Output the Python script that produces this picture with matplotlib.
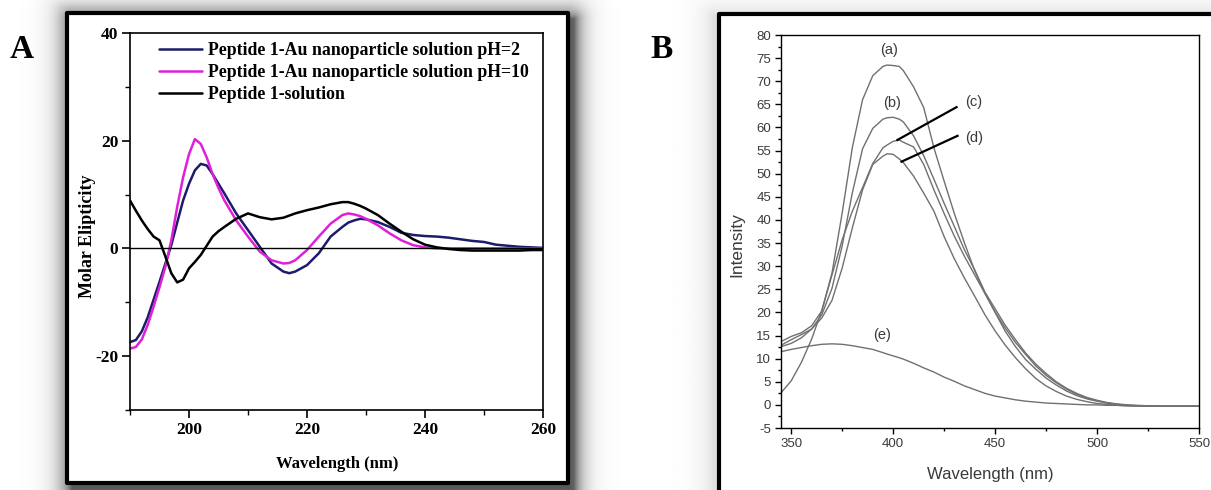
import numpy as np
import matplotlib
matplotlib.use("Agg")
import matplotlib.pyplot as plt
from matplotlib.patches import Rectangle

plt.rcParams["axes.unicode_minus"] = False

# =========================
# DATA
# =========================
# Panel A: CD spectra
cd_wavelength = [190, 191, 192, 193, 194, 195, 196, 197, 198, 199, 200, 201, 202, 203,
                 204, 205, 206, 208, 210, 212, 214, 216, 217, 218, 220, 222, 224, 226,
                 227, 228, 229, 230, 232, 234, 236, 238, 240, 242, 244, 246, 248, 250,
                 252, 254, 256, 258, 260]
cd_ph2 = [-17.4, -17.0, -15.4, -12.8, -9.5, -6.2, -2.8, 0.6, 4.8, 8.9, 12.0, 14.5, 15.7, 15.4,
          13.8, 12.0, 10.2, 6.5, 3.4, 0.3, -2.8, -4.3, -4.6, -4.3, -3.1, -0.9, 2.2, 4.0,
          4.8, 5.2, 5.5, 5.4, 4.9, 4.0, 2.9, 2.5, 2.3, 2.2, 2.0, 1.7, 1.4, 1.2,
          0.7, 0.5, 0.3, 0.2, 0.1]
cd_ph10 = [-18.6, -18.3, -16.9, -14.2, -10.8, -7.2, -3.4, 1.5, 7.7, 13.2, 17.5, 20.3, 19.4, 16.9,
           13.8, 11.2, 8.9, 5.2, 2.2, -0.6, -2.2, -2.8, -2.7, -2.2, -0.3, 2.2, 4.6, 6.2,
           6.5, 6.3, 6.0, 5.5, 4.3, 2.8, 1.5, 0.6, 0.2, 0.0, 0.0, 0.0, 0.0, 0.0,
           0.0, 0.0, 0.0, 0.0, 0.0]
cd_peptide = [8.9, 7.0, 5.2, 3.6, 2.2, 1.5, -1.5, -4.6, -6.3, -5.8, -3.7, -2.5, -1.2, 0.5,
              2.2, 3.2, 4.0, 5.5, 6.5, 5.8, 5.4, 5.7, 6.1, 6.5, 7.1, 7.6, 8.2, 8.6,
              8.6, 8.3, 7.9, 7.4, 6.2, 4.6, 3.1, 1.7, 0.7, 0.2, -0.1, -0.3, -0.4, -0.4,
              -0.4, -0.4, -0.4, -0.3, -0.3]
cd_labels = ["Peptide 1-Au nanoparticle solution pH=2",
             "Peptide 1-Au nanoparticle solution pH=10",
             "Peptide 1-solution"]

# Panel B: fluorescence spectra
fl_wavelength = [345, 350, 355, 360, 365, 370, 375, 380, 385, 390, 395, 397, 400, 403, 405,
                 410, 415, 420, 425, 430, 435, 440, 445, 450, 455, 460, 465, 470, 475, 480,
                 485, 490, 495, 500, 505, 510, 515, 520, 530, 540, 550]
fl_a = [13.7, 14.8, 15.6, 17.1, 20.3, 28.5, 41.5, 55.7, 66.0, 71.2, 73.2, 73.5, 73.4, 73.2, 72.3,
        68.8, 64.3, 55.6, 48.4, 41.4, 35.0, 29.0, 24.2, 20.0, 15.9, 12.6, 9.8, 7.7, 5.8, 4.3,
        3.0, 2.0, 1.3, 0.8, 0.4, 0.1, -0.1, -0.2, -0.3, -0.3, -0.3]
fl_b = [12.9, 14.1, 15.2, 16.4, 19.5, 25.2, 34.4, 45.9, 55.4, 59.8, 61.8, 62.1, 62.2, 61.8, 61.2,
        58.2, 53.9, 48.8, 43.6, 38.6, 33.5, 29.2, 24.4, 20.8, 17.2, 14.1, 11.2, 8.8, 6.8, 5.0,
        3.6, 2.5, 1.6, 1.0, 0.5, 0.2, 0.0, -0.1, -0.3, -0.3, -0.3]
fl_c = [2.6, 5.2, 9.2, 14.2, 20.4, 28.1, 35.7, 41.9, 47.0, 52.2, 55.6, 56.2, 57.0, 57.3, 56.8,
        55.8, 52.0, 46.5, 41.4, 36.5, 32.1, 28.1, 24.1, 20.1, 16.6, 13.5, 10.9, 8.4, 6.4, 4.8,
        3.4, 2.3, 1.5, 0.9, 0.4, 0.1, -0.1, -0.2, -0.3, -0.3, -0.3]
fl_d = [12.6, 13.3, 14.5, 16.4, 18.8, 22.6, 29.6, 38.3, 46.5, 52.0, 53.8, 54.3, 54.2, 53.2, 52.4,
        49.5, 45.8, 41.9, 36.4, 31.6, 27.4, 23.5, 19.5, 16.0, 12.9, 10.2, 7.8, 5.7, 4.1, 2.9,
        1.9, 1.2, 0.7, 0.3, 0.1, -0.1, -0.2, -0.2, -0.3, -0.3, -0.3]
fl_e = [11.5, 12.0, 12.4, 12.8, 13.1, 13.2, 13.1, 12.8, 12.4, 12.0, 11.3, 11.0, 10.6, 10.2, 9.9,
        9.0, 8.0, 7.1, 6.0, 5.1, 4.1, 3.3, 2.5, 1.9, 1.5, 1.1, 0.8, 0.6, 0.4, 0.3,
        0.2, 0.1, 0.0, 0.0, -0.1, -0.1, -0.2, -0.2, -0.3, -0.3, -0.3]
fl_names = ["(a)", "(b)", "(c)", "(d)", "(e)"]

# =========================
# LAYOUT (pixels of a 1211 x 490 canvas)
# =========================
W, H = 1211, 490
SERIF = "Liberation Serif"
SANS = "Liberation Sans"


def fig_rect(x0, y0, x1, y1):
    return [x0 / W, 1 - y1 / H, (x1 - x0) / W, (y1 - y0) / H]


def rect_dist(xx, yy, x0, y0, x1, y1):
    dx = np.maximum(np.maximum(x0 - xx, 0), xx - x1)
    dy = np.maximum(np.maximum(y0 - yy, 0), yy - y1)
    return np.hypot(dx, dy)


fig = plt.figure(figsize=(W / 100, H / 100), dpi=100)

# background with soft drop shadows and the two black frames
bg = fig.add_axes([0, 0, 1, 1], zorder=0)
bg.set_xlim(0, W)
bg.set_ylim(H, 0)
bg.axis("off")
yy, xx = np.mgrid[0:H, 0:W] + 0.5
shade = 0.55 * np.exp(-rect_dist(xx, yy, 72, 20, 574, 492) / 9.0)
shade += 0.10 * np.exp(-rect_dist(xx, yy, 60, 8, 570, 488) / 10.0)
shade += 0.12 * np.exp(-rect_dist(xx, yy, 714, 16, 1260, 520) / 12.0)
bg.imshow(1 - np.clip(shade, 0, 1), cmap="gray", vmin=0, vmax=1,
          extent=[0, W, H, 0], aspect="auto", interpolation="bilinear")
bg.add_patch(Rectangle((67, 13), 501, 470, facecolor="white", edgecolor="black",
                       lw=3.0, joinstyle="round"))
bg.add_patch(Rectangle((719, 14), 600, 600, facecolor="white", edgecolor="black",
                       lw=3.0, joinstyle="round"))
bg.text(22, 50, "A", family=SERIF, fontweight="bold", fontsize=24, ha="center", va="center")
bg.text(662, 50, "B", family=SERIF, fontweight="bold", fontsize=24, ha="center", va="center")

# ---------- Panel A ----------
axA = fig.add_axes(fig_rect(130, 33, 543, 410), zorder=2)
line_kw = dict(lw=1.8, solid_joinstyle="round", solid_capstyle="round")
axA.plot(cd_wavelength, cd_ph2, color="#1c1c6b", label=cd_labels[0], **line_kw)
axA.plot(cd_wavelength, cd_ph10, color="#e020d8", label=cd_labels[1], **line_kw)
axA.plot(cd_wavelength, cd_peptide, color="black", label=cd_labels[2], **line_kw)
axA.axhline(0, color="black", lw=1.0)
axA.set_xlim(190, 260)
axA.set_ylim(-30, 40)
axA.set_xticks([200, 220, 240, 260])
axA.set_xticks([190, 210, 230, 250], minor=True)
axA.set_yticks([-20, 0, 20, 40])
axA.set_yticks([-30, -10, 10, 30], minor=True)
axA.tick_params(which="major", direction="out", length=5.5, width=1.2, pad=3, labelsize=12.5)
axA.tick_params(which="minor", direction="out", length=3.5, width=1.0)
for lab in axA.get_xticklabels() + axA.get_yticklabels():
    lab.set_family(SERIF)
    lab.set_fontweight("bold")
for sp in axA.spines.values():
    sp.set_linewidth(1.2)
axA.set_xlabel("Wavelength (nm)", family=SERIF, fontweight="bold", fontsize=12)
axA.xaxis.set_label_coords(0.501, -0.122)
axA.set_ylabel("Molar Elipticity", family=SERIF, fontweight="bold", fontsize=13)
axA.yaxis.set_label_coords(-0.083, 0.46)
axA.legend(loc="upper left", bbox_to_anchor=(0.07, 0.975), frameon=False,
           prop={"family": SERIF, "weight": "bold", "size": 12.75},
           handlelength=2.45, handletextpad=0.35, labelspacing=0.28,
           borderpad=0, borderaxespad=0)

# ---------- Panel B ----------
axB = fig.add_axes(fig_rect(781, 35, 1199, 428), zorder=2)
for vals in [fl_a, fl_b, fl_c, fl_d, fl_e]:
    axB.plot(fl_wavelength, vals, color="#707070", lw=1.0, solid_joinstyle="round")
axB.set_xlim(345, 550)
axB.set_ylim(-5, 80)
axB.set_xticks(np.arange(350, 551, 50))
axB.set_xticks(np.arange(375, 550, 50), minor=True)
axB.set_yticks(np.arange(-5, 81, 5))
axB.set_yticks(np.arange(-2.5, 80, 5), minor=True)
axB.tick_params(which="major", direction="out", length=4.5, width=1.0, pad=2.5,
                labelsize=9.5, labelcolor="#3a3a3a")
axB.tick_params(which="minor", direction="out", length=2.5, width=1.0)
for lab in axB.get_xticklabels() + axB.get_yticklabels():
    lab.set_family(SANS)
for sp in axB.spines.values():
    sp.set_linewidth(1.0)
axB.set_xlabel("Wavelength (nm)", family=SANS, fontsize=12, color="#3a3a3a")
axB.xaxis.set_label_coords(0.5, -0.1)
axB.set_ylabel("Intensity", family=SANS, fontsize=12.5, color="#3a3a3a")
axB.yaxis.set_label_coords(-0.088, 0.468)

# curve labels and pointer lines
label_xy = [(398.2, 76.8), (399.6, 65.3), (439.4, 65.5), (439.9, 57.7), (394.7, 15.1)]
for name, (lx, ly) in zip(fl_names, label_xy):
    axB.text(lx, ly, name, family=SANS, fontsize=10.5, color="#3a3a3a", ha="center", va="center")
axB.plot([402.1, 431.1], [57.3, 64.4], color="black", lw=1.6)
axB.plot([404.1, 431.6], [52.6, 58.2], color="black", lw=1.6)

fig.savefig("out.png", dpi=100)
